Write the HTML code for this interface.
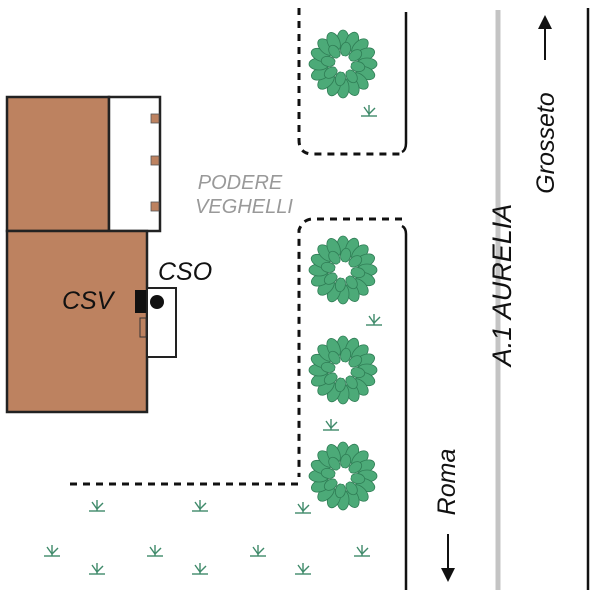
<!DOCTYPE html>
<html><head><meta charset="utf-8"><style>
html,body{margin:0;padding:0;background:#fff;width:600px;height:600px;overflow:hidden}
</style></head><body>
<svg width="600" height="600" viewBox="0 0 600 600" xmlns="http://www.w3.org/2000/svg" font-family="Liberation Sans, sans-serif">
<defs>
<g id="tree">
<g fill="#4caa78" stroke="#2f7d55" stroke-width="0.8">
<ellipse cx="0" cy="-24" rx="6" ry="10"/>
<ellipse cx="0" cy="-24" rx="6" ry="10" transform="rotate(22)"/>
<ellipse cx="0" cy="-24" rx="6" ry="10" transform="rotate(45)"/>
<ellipse cx="0" cy="-24" rx="6" ry="10" transform="rotate(67)"/>
<ellipse cx="0" cy="-24" rx="6" ry="10" transform="rotate(90)"/>
<ellipse cx="0" cy="-24" rx="6" ry="10" transform="rotate(112)"/>
<ellipse cx="0" cy="-24" rx="6" ry="10" transform="rotate(135)"/>
<ellipse cx="0" cy="-24" rx="6" ry="10" transform="rotate(157)"/>
<ellipse cx="0" cy="-24" rx="6" ry="10" transform="rotate(180)"/>
<ellipse cx="0" cy="-24" rx="6" ry="10" transform="rotate(202)"/>
<ellipse cx="0" cy="-24" rx="6" ry="10" transform="rotate(225)"/>
<ellipse cx="0" cy="-24" rx="6" ry="10" transform="rotate(247)"/>
<ellipse cx="0" cy="-24" rx="6" ry="10" transform="rotate(270)"/>
<ellipse cx="0" cy="-24" rx="6" ry="10" transform="rotate(292)"/>
<ellipse cx="0" cy="-24" rx="6" ry="10" transform="rotate(315)"/>
<ellipse cx="0" cy="-24" rx="6" ry="10" transform="rotate(337)"/>
<ellipse cx="0" cy="-15" rx="5" ry="7" transform="rotate(10)"/>
<ellipse cx="0" cy="-15" rx="5" ry="7" transform="rotate(55)"/>
<ellipse cx="0" cy="-15" rx="5" ry="7" transform="rotate(100)"/>
<ellipse cx="0" cy="-15" rx="5" ry="7" transform="rotate(145)"/>
<ellipse cx="0" cy="-15" rx="5" ry="7" transform="rotate(190)"/>
<ellipse cx="0" cy="-15" rx="5" ry="7" transform="rotate(235)"/>
<ellipse cx="0" cy="-15" rx="5" ry="7" transform="rotate(280)"/>
<ellipse cx="0" cy="-15" rx="5" ry="7" transform="rotate(325)"/>
</g>
<circle r="8" fill="#fff"/>
</g>
<g id="grass" stroke="#3f8a6a" stroke-width="1.4" fill="none">
<line x1="-8" y1="5" x2="8" y2="5"/>
<line x1="0" y1="5" x2="0" y2="-6"/>
<line x1="0" y1="3" x2="-5" y2="-4"/>
<line x1="0" y1="3" x2="6" y2="-3"/>
</g>
</defs>

<rect x="7" y="97" width="102" height="134" fill="#bd8260" stroke="#222" stroke-width="2.5"/>
<rect x="109" y="97" width="51" height="134" fill="#fff" stroke="#222" stroke-width="2.5"/>
<rect x="151" y="114" width="8" height="9" fill="#bd8260" stroke="#555" stroke-width="0.8"/>
<rect x="151" y="156" width="8" height="9" fill="#bd8260" stroke="#555" stroke-width="0.8"/>
<rect x="151" y="202" width="8" height="9" fill="#bd8260" stroke="#555" stroke-width="0.8"/>
<rect x="7" y="231" width="140" height="181" fill="#bd8260" stroke="#222" stroke-width="2.5"/>
<rect x="147" y="288" width="29" height="69" fill="#fff" stroke="#222" stroke-width="2"/>
<rect x="135" y="290" width="11" height="23" fill="#111"/>
<rect x="140" y="318" width="6" height="19" fill="#bd8260" stroke="#333" stroke-width="1"/>
<circle cx="157" cy="302" r="7" fill="#111"/>

<g stroke="#111" stroke-width="3" fill="none" stroke-dasharray="7,6">
<path d="M299 8 V140 Q299 154 313 154 H402"/>
<path d="M402 219 H313 Q303 219 299 230 V477"/>
<path d="M70 484 H300"/>
</g>
<path d="M406 12 V143 Q406 150 402 152" stroke="#111" stroke-width="2.5" fill="none"/>
<path d="M402 226 Q406 228 406 234 V590" stroke="#111" stroke-width="2.5" fill="none"/>
<line x1="498" y1="10" x2="498" y2="590" stroke="#c4c4c4" stroke-width="5"/>
<line x1="588" y1="8" x2="588" y2="590" stroke="#111" stroke-width="2.5"/>

<use href="#tree" x="343" y="64"/>
<use href="#tree" x="343" y="270"/>
<use href="#tree" x="343" y="370"/>
<use href="#tree" x="343" y="476"/>

<use href="#grass" x="369" y="111"/>
<use href="#grass" x="374" y="320"/>
<use href="#grass" x="331" y="425"/>
<use href="#grass" x="97" y="506"/>
<use href="#grass" x="200" y="506"/>
<use href="#grass" x="303" y="508"/>
<use href="#grass" x="52" y="551"/>
<use href="#grass" x="155" y="551"/>
<use href="#grass" x="258" y="551"/>
<use href="#grass" x="362" y="551"/>
<use href="#grass" x="97" y="569"/>
<use href="#grass" x="200" y="569"/>
<use href="#grass" x="303" y="569"/>

<text x="240" y="189" font-size="20" font-style="italic" fill="#999" text-anchor="middle">PODERE</text>
<text x="244" y="213" font-size="20" font-style="italic" fill="#999" text-anchor="middle">VEGHELLI</text>
<text x="158" y="280" font-size="25" font-style="italic" fill="#111">CSO</text>
<text x="62" y="309" font-size="25" font-style="italic" fill="#111">CSV</text>
<text transform="translate(511,285) rotate(-90)" font-size="27" font-style="italic" fill="#111" text-anchor="middle">A.1 AURELIA</text>
<text transform="translate(554,143) rotate(-90)" font-size="25" font-style="italic" fill="#111" text-anchor="middle">Grosseto</text>
<text transform="translate(455,482) rotate(-90)" font-size="25" font-style="italic" fill="#111" text-anchor="middle">Roma</text>

<line x1="545" y1="60" x2="545" y2="26" stroke="#111" stroke-width="2"/>
<polygon points="545,15 538,29 552,29" fill="#111"/>
<line x1="448" y1="534" x2="448" y2="570" stroke="#111" stroke-width="2"/>
<polygon points="448,582 441,568 455,568" fill="#111"/>
</svg>
</body></html>
